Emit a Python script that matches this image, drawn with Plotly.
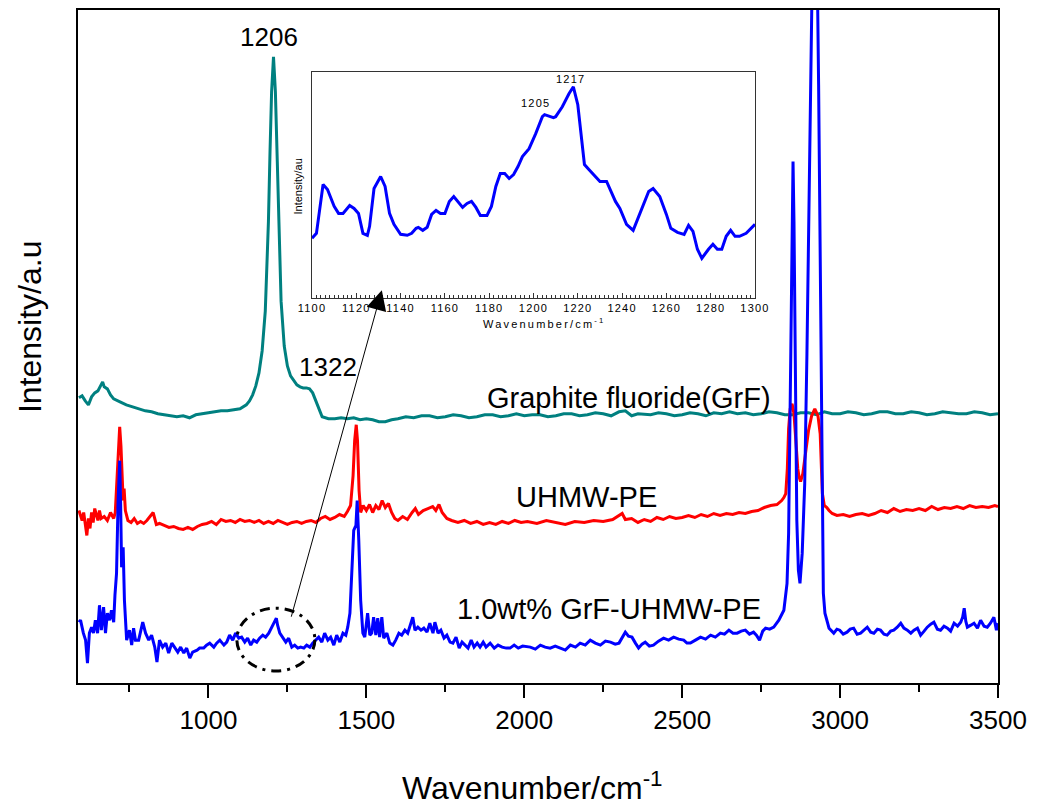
import plotly.graph_objects as go

# ---------------- data (intensity in arbitrary units) ----------------
grf_x = [590, 600, 610, 620, 630, 640, 650, 660, 665, 670, 680, 690, 700, 720, 740, 760, 780, 800,
         820, 840, 860, 880, 900, 920, 940, 960, 980, 1000, 1020, 1040, 1060, 1080, 1100, 1120, 1130,
         1140, 1150, 1160, 1170, 1180, 1185, 1190, 1195, 1200, 1206, 1212, 1218, 1224, 1230, 1240,
         1250, 1260, 1270, 1280, 1290, 1300, 1310, 1320, 1330, 1340, 1350, 1360, 1380, 1400, 1420,
         1440, 1460, 1480, 1500, 1520, 1540, 1560, 1580, 1600, 1625, 1650, 1675, 1700, 1725, 1750,
         1775, 1800, 1825, 1850, 1875, 1900, 1925, 1950, 1975, 2000, 2025, 2050, 2075, 2100, 2125,
         2150, 2175, 2200, 2225, 2250, 2275, 2300, 2320, 2340, 2360, 2400, 2425, 2450, 2475, 2500,
         2525, 2550, 2575, 2600, 2625, 2650, 2675, 2700, 2725, 2750, 2775, 2800, 2825, 2850, 2875,
         2900, 2925, 2950, 2975, 3000, 3025, 3050, 3075, 3100, 3125, 3150, 3175, 3200, 3225, 3250,
         3275, 3300, 3325, 3350, 3375, 3400, 3425, 3450, 3475, 3500]
grf_y = [286, 288, 283, 279, 287, 291, 293, 299, 302, 297, 295, 289, 285, 282, 279, 277, 275, 273,
         272, 270, 269, 268, 267, 268, 266, 269, 270, 271, 272, 273, 273, 274, 275, 279, 283,
         289, 298, 311, 333, 373, 413, 463, 533, 593, 628, 593, 523, 443, 383, 338,
         318, 308, 303, 299, 297, 296, 296, 295, 291, 283, 273, 267, 265, 265, 266,
         265, 266, 264, 265, 264, 262, 262, 264, 265, 267, 266, 268, 268, 266, 267,
         269, 268, 266, 267, 269, 269, 267, 268, 270, 268, 269, 269, 267, 268, 270,
         270, 268, 269, 271, 270, 268, 272, 273, 268, 270, 269, 271, 270, 268, 269,
         271, 270, 268, 271, 270, 272, 270, 271, 269, 270, 272, 271, 269, 269, 271,
         271, 269, 272, 270, 270, 272, 271, 269, 270, 272, 272, 270, 270, 272, 271,
         269, 270, 272, 271, 270, 270, 272, 271, 269, 270]

pe_x = [590, 595, 600, 605, 610, 615, 620, 625, 630, 635, 640, 645, 650, 655, 660, 670, 680, 690,
        700, 705, 710, 715, 719, 723, 727, 730, 733, 737, 745, 755, 765, 775, 785, 795, 805, 815,
        825, 835, 845, 860, 875, 890, 905, 920, 935, 950, 965, 980, 995, 1010, 1025, 1040, 1055,
        1070, 1085, 1100, 1115, 1130, 1145, 1160, 1175, 1190, 1205, 1220, 1235, 1250, 1265, 1280,
        1295, 1310, 1325, 1340, 1355, 1370, 1385, 1400, 1415, 1430, 1440, 1450, 1458, 1463, 1468,
        1472, 1477, 1482, 1490, 1500, 1510, 1520, 1530, 1540, 1550, 1560, 1570, 1580, 1590, 1600,
        1615, 1630, 1645, 1655, 1665, 1680, 1695, 1710, 1720, 1730, 1740, 1755, 1770, 1790, 1810,
        1830, 1850, 1870, 1890, 1910, 1930, 1950, 1970, 1990, 2010, 2040, 2070, 2100, 2130, 2160,
        2190, 2220, 2250, 2280, 2300, 2310, 2320, 2340, 2360, 2380, 2400, 2420, 2440, 2460, 2480,
        2500, 2520, 2540, 2560, 2580, 2600, 2620, 2640, 2660, 2680, 2700, 2720, 2740, 2760, 2780,
        2800, 2815, 2822, 2828, 2833, 2837, 2842, 2848, 2854, 2860, 2866, 2870, 2875, 2882, 2890,
        2900, 2910, 2920, 2930, 2937, 2941, 2944, 2950, 2958, 2965, 2975, 2990, 3010,
        3030, 3050, 3070, 3090, 3110, 3130, 3150, 3170, 3190, 3210, 3230, 3250, 3270, 3290, 3310,
        3330, 3350, 3370, 3390, 3410, 3430, 3450, 3470, 3490, 3500]
pe_y = [173, 168, 163, 171, 158, 148, 165, 155, 171, 161, 175, 168, 163, 173, 165, 167, 163, 171,
        165, 171, 203, 243, 257, 238, 193, 183, 195, 173, 163, 161, 165, 160, 162, 160, 163, 167,
        171, 159, 160, 158, 156, 157, 155, 154, 156, 154, 157, 159, 160, 162, 159, 164, 162,
        163, 161, 164, 162, 163, 161, 163, 160, 162, 160, 163, 161, 159, 161, 162,
        160, 162, 163, 161, 165, 167, 164, 166, 169, 167, 172, 178, 208, 243, 259,
        243, 193, 171, 178, 173, 179, 171, 178, 174, 183, 176, 180, 171, 165, 163,
        167, 164, 171, 175, 169, 173, 175, 177, 173, 179, 171, 165, 163, 161, 163,
        160, 162, 159, 161, 159, 162, 160, 163, 161, 162, 160, 163, 161, 159, 162,
        161, 163, 162, 164, 168, 170, 164, 165, 161, 164, 162, 166, 164, 167, 165,
        166, 168, 166, 169, 167, 170, 168, 170, 169, 171, 170, 172, 173, 176, 178,
        179, 183, 186, 190, 215, 255, 275, 280, 270, 240, 215, 207, 202, 210, 230,
        253, 268, 275, 268, 250, 215, 190, 178, 176, 173, 170, 168, 169,
        167, 169, 170, 168, 170, 173, 171, 175, 172, 174, 173, 175, 173, 177, 174,
        176, 175, 177, 175, 178, 176, 177, 176, 178, 177]

comp_x = [590, 595, 604, 611, 617, 623, 630, 636, 642, 649, 655, 661, 668, 674, 680, 687, 693, 700,
          704, 709, 714, 719, 722, 725, 730, 734, 741, 750, 757, 763, 769, 779, 792, 801, 811, 820,
          830, 837, 845, 855, 865, 874, 884, 893, 903, 912, 922, 931, 941, 950, 964, 972, 985, 994,
          1004, 1017, 1026, 1036, 1049, 1058, 1067, 1077, 1086, 1096, 1105, 1115, 1124, 1134, 1143,
          1153, 1162, 1172, 1181, 1191, 1200, 1207, 1215, 1219, 1226, 1235, 1245, 1254, 1264, 1273,
          1283, 1292, 1302, 1311, 1321, 1330, 1340, 1349, 1359, 1368, 1378, 1387, 1397, 1406, 1416,
          1426, 1435, 1441, 1448, 1454, 1460, 1467, 1471, 1476, 1482, 1489, 1495, 1504, 1511, 1517,
          1523, 1530, 1536, 1542, 1549, 1555, 1565, 1574, 1584, 1593, 1603, 1612, 1622, 1631, 1641,
          1647, 1654, 1663, 1673, 1682, 1692, 1701, 1711, 1717, 1727, 1736, 1746, 1755, 1765, 1774,
          1784, 1794, 1803, 1813, 1822, 1832, 1841, 1851, 1860, 1870, 1879, 1892, 1905, 1917, 1930,
          1943, 1955, 1968, 1981, 1995, 2019, 2035, 2051, 2066, 2082, 2098, 2114, 2130, 2146, 2162,
          2177, 2193, 2209, 2225, 2241, 2257, 2273, 2288, 2300, 2320, 2330, 2341, 2352, 2362, 2373,
          2383, 2396, 2409, 2425, 2441, 2457, 2473, 2489, 2505, 2515, 2526, 2542, 2558, 2574, 2590,
          2605, 2621, 2634, 2648, 2661, 2674, 2687, 2700, 2713, 2726, 2735, 2745, 2755, 2764, 2777,
          2790, 2806, 2822, 2832, 2837, 2844, 2848, 2851, 2854, 2858, 2863, 2868, 2873, 2880, 2888,
          2895, 2902, 2908, 2914, 2920, 2926, 2932, 2937, 2942, 2947, 2952, 2958, 2965, 2980, 2990,
          2999, 3010, 3022, 3032, 3043, 3054, 3065, 3075, 3086, 3097, 3107, 3118, 3128, 3139, 3149,
          3160, 3170, 3181, 3192, 3202, 3213, 3224, 3234, 3245, 3255, 3266, 3276, 3287, 3297, 3308,
          3318, 3329, 3340, 3350, 3361, 3372, 3382, 3388, 3393, 3398, 3403, 3414, 3424, 3435, 3445,
          3456, 3466, 3476, 3487, 3495, 3500]
comp_y = [61, 63, 50, 43, 20, 50, 56, 50, 63, 50, 78, 53, 76, 50, 70, 63, 73, 61,
          88, 110, 183, 223, 180, 116, 136, 83, 43, 53, 38, 55, 43, 43, 61, 50, 43, 48,
          36, 21, 43, 36, 40, 30, 40, 36, 31, 36, 30, 35, 25, 31, 33, 35, 35, 38,
          40, 36, 40, 43, 38, 41, 48, 43, 50, 45, 46, 41, 45, 38, 43,
          41, 45, 48, 46, 50, 55, 60, 65, 58, 50, 46, 41, 45, 36, 38,
          35, 36, 35, 38, 36, 40, 43, 46, 41, 50, 43, 46, 38, 48, 41,
          50, 48, 56, 70, 110, 153, 158, 183, 143, 83, 50, 46, 70, 48, 50,
          66, 48, 65, 46, 66, 45, 50, 40, 38, 43, 50, 48, 53, 50, 60,
          66, 53, 56, 53, 55, 51, 60, 50, 61, 50, 53, 45, 48, 41, 40,
          46, 35, 41, 38, 35, 43, 36, 40, 36, 41, 36, 40, 35, 38, 36,
          35, 35, 38, 35, 37, 36, 34, 38, 36, 35, 37, 35, 33, 38, 36,
          40, 38, 43, 40, 38, 42, 41, 39, 40, 51, 47, 46, 40, 35, 39,
          41, 37, 38, 42, 45, 43, 46, 44, 43, 40, 40, 43, 46, 44, 48,
          46, 50, 49, 53, 50, 50, 52, 53, 49, 51, 48, 43, 52, 55, 54,
          56, 63, 73, 100, 150, 333, 483, 523, 463, 283, 163, 113, 100, 130, 200,
          330, 500, 650, 760, 800, 760, 600, 400, 200, 90, 70, 62, 55, 50, 54,
          53, 49, 51, 54, 55, 49, 50, 53, 56, 51, 50, 54, 53, 49, 48,
          52, 53, 56, 60, 55, 53, 50, 53, 55, 48, 52, 56, 59, 61, 54,
          53, 57, 55, 52, 60, 57, 61, 66, 75, 62, 56, 58, 60, 55, 63,
          57, 56, 60, 66, 53, 60]

inset_x = [1100, 1102, 1105, 1107, 1110, 1112, 1114, 1117, 1119, 1121, 1123, 1125, 1126, 1128, 1131,
           1133, 1135, 1137, 1140, 1143, 1145, 1147, 1148, 1150, 1152, 1154, 1156, 1158, 1160, 1162,
           1164, 1166, 1168, 1170, 1172, 1174, 1176, 1179, 1181, 1183, 1185, 1187, 1189, 1191, 1193,
           1195, 1198, 1201, 1204, 1205, 1209, 1210, 1213, 1216, 1218, 1220, 1223, 1225, 1227, 1230,
           1233, 1237, 1239, 1242, 1245, 1247, 1250, 1252, 1254, 1257, 1260, 1262, 1265, 1268, 1270,
           1272, 1274, 1276, 1279, 1281, 1283, 1285, 1287, 1289, 1291, 1293, 1296, 1300]
inset_y = [60, 65, 114, 109, 92, 85, 85, 93, 90, 85, 65, 63, 72, 110, 122,
           112, 85, 74, 64, 63, 65, 70, 71, 68, 71, 84, 88, 85, 85, 97,
           102, 96, 91, 95, 97, 91, 83, 83, 92, 112, 125, 125, 120, 124, 132,
           142, 150, 165, 182, 184, 181, 182, 192, 205, 212, 194, 134, 129, 124, 117,
           117, 97, 90, 74, 68, 79, 97, 107, 110, 102, 84, 70, 66, 64, 73,
           67, 49, 40, 49, 54, 49, 49, 62, 68, 62, 62, 65, 74]

main_ticks = [1000, 1500, 2000, 2500, 3000, 3500]
inset_ticks = [1100, 1120, 1140, 1160, 1180, 1200, 1220, 1240, 1260, 1280, 1300]

# ---------------- figure ----------------
FONT = "Liberation Sans, Arial, sans-serif"
W, H = 1044, 807
L, R, T, B = 78, 998, 8, 683  # plot area in pixels


def px2paper(px, py):
    return (px - L) / (R - L), (B - py) / (B - T)


fig = go.Figure()
fig.add_trace(go.Scatter(x=grf_x, y=grf_y, mode="lines", line=dict(color="#008080", width=3),
                         showlegend=False))
fig.add_trace(go.Scatter(x=pe_x, y=pe_y, mode="lines", line=dict(color="#ff0000", width=3),
                         showlegend=False))
fig.add_trace(go.Scatter(x=comp_x, y=comp_y, mode="lines", line=dict(color="#0000ff", width=3),
                         showlegend=False))
fig.add_trace(go.Scatter(x=inset_x, y=inset_y, mode="lines", line=dict(color="#0000ff", width=3),
                         xaxis="x2", yaxis="y2", showlegend=False))

ix0, iy0 = px2paper(312, 297)
ix1, iy1 = px2paper(755, 70)

fig.update_layout(
    width=W, height=H,
    margin=dict(l=L, r=W - R, t=T, b=H - B),
    paper_bgcolor="white", plot_bgcolor="white",
    font=dict(family=FONT, color="black"),
    xaxis=dict(range=[587, 3500], showgrid=False, zeroline=False,
               showline=True, linecolor="black", linewidth=2, mirror=True,
               ticks="outside", ticklen=13, tickwidth=2, tickcolor="black",
               tickvals=main_ticks, ticktext=[str(v) for v in main_ticks],
               tickfont=dict(size=26, family=FONT, color="black"),
               minor=dict(tickvals=[750, 1250, 1750, 2250, 2750, 3250], ticks="outside",
                          ticklen=7, tickwidth=2, tickcolor="black")),
    yaxis=dict(range=[0, 675], showgrid=False, zeroline=False, showticklabels=False,
               showline=True, linecolor="black", linewidth=2, mirror=True, ticks=""),
    xaxis2=dict(domain=[ix0, ix1], anchor="y2", range=[1100, 1300], showgrid=False,
                zeroline=False, showline=True, linecolor="#333333", linewidth=1, mirror=True,
                ticks="inside", ticklen=5, tickwidth=1, tickcolor="#333333",
                tickvals=inset_ticks,
                ticktext=['<span style="letter-spacing:1.2px">%d</span>' % v for v in inset_ticks],
                tickfont=dict(size=11, family=FONT, color="black"),
                minor=dict(dtick=2, ticks="inside", ticklen=3, tickwidth=1, tickcolor="#333333")),
    yaxis2=dict(domain=[iy0, iy1], anchor="x2", range=[0, 227], showgrid=False, zeroline=False,
                showticklabels=False, showline=True, linecolor="#333333", linewidth=1,
                mirror=True, ticks=""),
)

ann = []


def text_px(txt, px, py, size, angle=0):
    xp, yp = px2paper(px, py)
    ann.append(dict(text=txt, x=xp, y=yp, xref="paper", yref="paper", showarrow=False,
                    xanchor="center", yanchor="middle", textangle=angle,
                    font=dict(size=size, family=FONT, color="black")))


text_px("1206", 269, 35, 26)
text_px("1322", 328, 366, 26)
text_px("Graphite fluoride(GrF)", 629, 397, 29)
text_px("UHMW-PE", 586, 496, 29)
text_px("1.0wt% GrF-UHMW-PE", 609, 609, 29)
text_px('<span style="letter-spacing:1.2px">1205</span>', 535, 101, 11)
text_px('<span style="letter-spacing:1.2px">1217</span>', 570, 77, 11)
text_px('<span style="letter-spacing:2.2px">Wavenumber/cm<sup>-1</sup></span>', 544, 322, 11)
text_px("Intensity/au", 298, 185, 11, -90)
text_px("Wavenumber/cm<sup>-1</sup>", 532, 786, 32)
text_px("Intensity/a.u", 30, 326, 32, -90)

# arrow from the circled region to the inset
ann.append(dict(x=1549, y=394, ax=1261, ay=65, xref="x", yref="y", axref="x", ayref="y",
                text="", showarrow=True, arrowhead=2, arrowsize=4, arrowwidth=1,
                arrowcolor="black"))
fig.update_layout(annotations=ann)

# dash-dot ellipse around the 1206 region of the composite spectrum
fig.add_shape(type="circle", xref="x", yref="y", x0=1090, x1=1337, y0=12, y1=75,
              line=dict(color="black", width=3, dash="10px,6px,3px,6px"))

fig.write_html("out.html", config={"displayModeBar": False},
               post_script="document.body.style.margin='0';document.body.style.overflow='hidden';")
